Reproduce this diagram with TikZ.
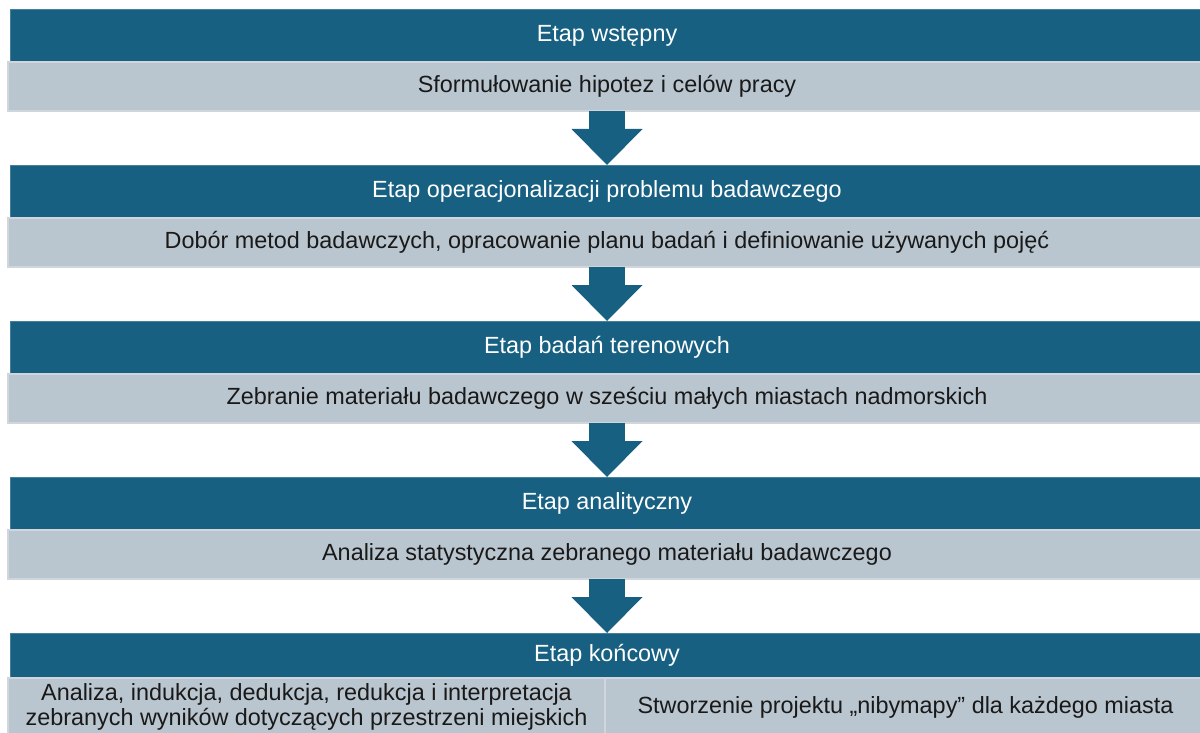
\documentclass[tikz,border=0pt]{standalone}
\usepackage{fontspec}
\setmainfont{Liberation Sans}
\usetikzlibrary{positioning,arrows.meta}
\definecolor{stagebg}{RGB}{23,96,130}
\definecolor{taskbg}{RGB}{186,198,207}
\definecolor{taskline}{RGB}{208,214,220}
\begin{document}
\begin{tikzpicture}[x=1pt, y=-1pt, node distance=54pt, font=\fontsize{23.4}{25}\selectfont]
    \tikzstyle{stage} = [rectangle, fill=stagebg, draw=stagebg!80!white, text=white, minimum width=1194pt, minimum height=53pt, inner sep=0pt, outer sep=0pt]
    \tikzstyle{task} = [rectangle, fill=taskbg, draw=taskline, line width=1.5pt, text=black!90, minimum width=1198pt, minimum height=49pt, inner sep=0pt, outer sep=0pt]
    \tikzstyle{arrow} = [draw=stagebg, line width=36pt, -{Triangle[width=71pt, length=36pt, line width=0pt 0]}]

    \useasboundingbox (0,0) rectangle (1200,733);

    \node [stage, anchor=north] (stage1) at (607,9) {Etap wstępny};
    \node [task, below=0pt of stage1] (task1) {Sformułowanie hipotez i celów pracy};
    \node [stage, below=of task1] (stage2) {Etap operacjonalizacji problemu badawczego};
    \node [task, below=0pt of stage2] (task2) {Dobór metod badawczych, opracowanie planu badań i definiowanie używanych pojęć};
    \node [stage, below=of task2] (stage3) {Etap badań terenowych};
    \node [task, below=0pt of stage3] (task3) {Zebranie materiału badawczego w sześciu małych miastach nadmorskich};
    \node [stage, below=of task3] (stage4) {Etap analityczny};
    \node [task, below=0pt of stage4] (task4) {Analiza statystyczna zebranego materiału badawczego};
    \node [stage, below=of task4, minimum height=45pt] (stage5) {Etap końcowy};
    \node [task, anchor=north west, minimum width=597pt, minimum height=58pt, align=center] (task5a) at ([xshift=-2pt]stage5.south west) {Analiza, indukcja, dedukcja, redukcja i interpretacja\\zebranych wyników dotyczących przestrzeni miejskich};
    \node [task, anchor=north west, minimum width=601pt, minimum height=58pt] (task5b) at (task5a.north east) {Stworzenie projektu „nibymapy” dla każdego miasta};

    \draw [arrow] (task1) -- (stage2);
    \draw [arrow] (task2) -- (stage3);
    \draw [arrow] (task3) -- (stage4);
    \draw [arrow] (task4) -- (stage5);
\end{tikzpicture}
\end{document}
